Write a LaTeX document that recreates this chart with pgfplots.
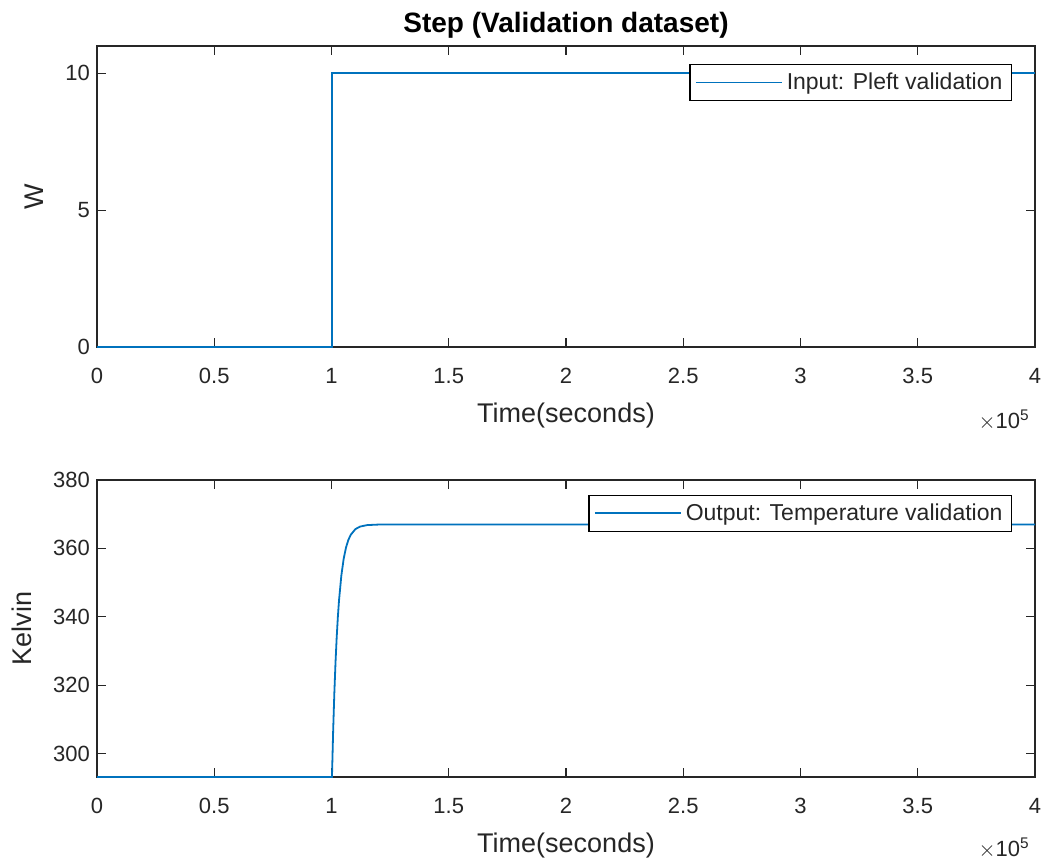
\documentclass[border=0pt]{standalone}
\usepackage{pgfplots}
\pgfplotsset{compat=1.18}
\usepackage{fontspec}
\setmainfont{Liberation Sans}
\definecolor{mblue}{rgb}{0,0.447,0.741}
\definecolor{mgray}{rgb}{0.15,0.15,0.15}
\pgfplotstableread{
t T
0 293.15
100200 293.15
100700 306.54
101200 317.50
101700 326.47
102200 333.82
102700 339.83
103200 344.76
104200 352.09
105200 357.01
106200 360.30
107200 362.51
108200 363.98
110200 365.65
112200 366.39
115200 366.82
120200 366.98
400000 367.00
}\temptab
\pgfplotstableread{
t u
0 0
100200 0
100200 10
400000 10
}\steptab
\pgfplotsset{
  mstyle/.style={
    scale only axis, width=469pt,
    xmin=0, xmax=400000,
    xtick={0,50000,100000,150000,200000,250000,300000,350000,400000},
    xticklabels={0,0.5,1,1.5,2,2.5,3,3.5,4},
    scaled x ticks=false,
    tick align=inside, major tick length=4.5pt,
    axis line style={mgray, line width=0.7pt},
    tick style={mgray, line width=0.6pt},
    every tick label/.append style={text=mgray, font=\fontsize{11}{13}\selectfont},
    xticklabel style={yshift=-7pt},
    /pgf/number format/assume math mode=true,
    label style={text=mgray, font=\fontsize{13.5}{15}\selectfont},
    xlabel={Time(seconds)},
    xlabel style={yshift=-3pt},
    ylabel style={yshift=4pt},
    legend cell align=left,
    legend style={draw=black, line width=0.6pt, fill=white, font=\fontsize{11.5}{13}\selectfont, text=mgray, inner xsep=2.5pt, inner ysep=2pt, row sep=0pt},
    legend image code/.code={\draw[#1] (0pt,0pt) -- (43pt,0pt);},
  }
}
\begin{document}
\begin{tikzpicture}
\useasboundingbox (0,0) rectangle (523.5pt,-429.5pt);
\begin{axis}[mstyle, name=top, at={(48.5pt,-23pt)}, anchor=north west, height=150.5pt,
  ymin=0, ymax=11, ytick={0,5,10}, ylabel={W},
  title={\textbf{Step (Validation dataset)}}, title style={text=black, font=\fontsize{14}{16}\selectfont, anchor=base, at={(0.5,1)}, yshift=1pt},
  legend style={at={(0.9755,0.94)}, anchor=north east}]
\addplot[mblue, line width=0.9pt] table[x=t,y=u] {\steptab};
\addlegendentry{Input: Pleft validation}
\end{axis}
\node[anchor=base east, text=mgray, font=\fontsize{11}{13}\selectfont, inner sep=0pt] at ([xshift=-2.5pt, yshift=-40.5pt]top.south east) {$\times$10\textsuperscript{5}};
\begin{axis}[mstyle, name=bot, at={(48.5pt,-240pt)}, anchor=north west, height=148.5pt,
  ymin=293.15, ymax=380, ytick={300,320,340,360,380}, ylabel={Kelvin},
  legend style={at={(0.9755,0.95)}, anchor=north east}]
\addplot[mblue, line width=0.9pt] table[x=t,y=T] {\temptab};
\addlegendentry{Output: Temperature validation}
\end{axis}
\node[anchor=base east, text=mgray, font=\fontsize{11}{13}\selectfont, inner sep=0pt] at ([xshift=-2.5pt, yshift=-39.5pt]bot.south east) {$\times$10\textsuperscript{5}};
\end{tikzpicture}
\end{document}
